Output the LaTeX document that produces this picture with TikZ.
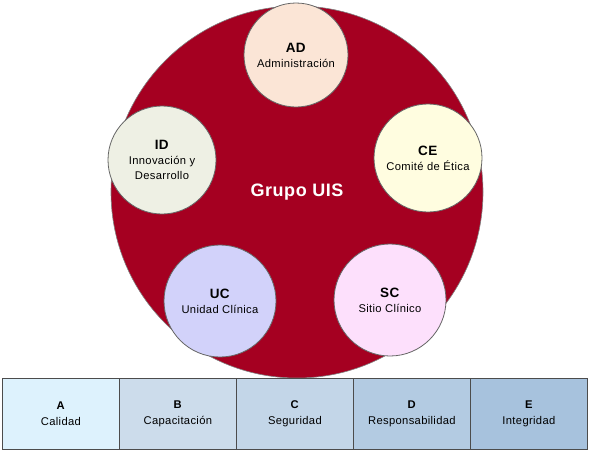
\documentclass[tikz,border=0pt]{standalone}
\usepackage{fontspec}
\setmainfont{Liberation Sans}[LetterSpace=3]
\begin{document}
\begin{tikzpicture}[x=1pt,y=-1pt,
  sub/.style={circle,draw=black!60,line width=0.8pt,minimum size=#1,inner sep=0pt,align=center,font=\fontsize{11.2}{15}\selectfont},
  cell/.style={draw=black!70,line width=0.8pt,minimum width=117pt,minimum height=71pt,inner sep=0pt,align=center,font=\fontsize{11.2}{16}\selectfont,anchor=north west}
]
\definecolor{uisred}{HTML}{A50021}
\definecolor{cAD}{HTML}{FBE5D6}
\definecolor{cCE}{HTML}{FFFDE0}
\definecolor{cID}{HTML}{EEF0E4}
\definecolor{cUC}{HTML}{D2D2FA}
\definecolor{cSC}{HTML}{FDE0FC}
\definecolor{cA}{HTML}{DDF2FD}
\definecolor{cB}{HTML}{CCDCEB}
\definecolor{cC}{HTML}{C3D6E8}
\definecolor{cD}{HTML}{B3CBE2}
\definecolor{cE}{HTML}{A7C2DD}
\useasboundingbox (0,0) rectangle (589,450);
\node (main) [circle,fill=uisred,draw=black!50,line width=0.6pt,minimum size=372pt,inner sep=0pt] at (297,192) {};
\node (grp) at (297,192) {\fontsize{18}{20}\selectfont\bfseries\color{white}Grupo UIS};
\node (ad) [sub=104pt,fill=cAD] at (296,55) {\textbf{\fontsize{13.5}{15}\selectfont AD}\\Administración};
\node (ce) [sub=108pt,fill=cCE] at (428,158) {\textbf{\fontsize{13.5}{15}\selectfont CE}\\Comité de Ética};
\node (id) [sub=108pt,fill=cID] at (162,160) {\textbf{\fontsize{13.5}{15}\selectfont ID}\\Innovación y\\Desarrollo};
\node (uc) [sub=112pt,fill=cUC] at (220,301) {\textbf{\fontsize{13.5}{15}\selectfont UC}\\Unidad Clínica};
\node (sc) [sub=112pt,fill=cSC] at (390,300) {\textbf{\fontsize{13.5}{15}\selectfont SC}\\Sitio Clínico};
\node (a) [cell,fill=cA] at (2,378) {\textbf{A}\\Calidad};
\node (b) [cell,fill=cB] at (119,378) {\textbf{B}\\Capacitación};
\node (c) [cell,fill=cC] at (236,378) {\textbf{C}\\Seguridad};
\node (d) [cell,fill=cD] at (353,378) {\textbf{D}\\Responsabilidad};
\node (e) [cell,fill=cE] at (470,378) {\textbf{E}\\Integridad};
\end{tikzpicture}
\end{document}
